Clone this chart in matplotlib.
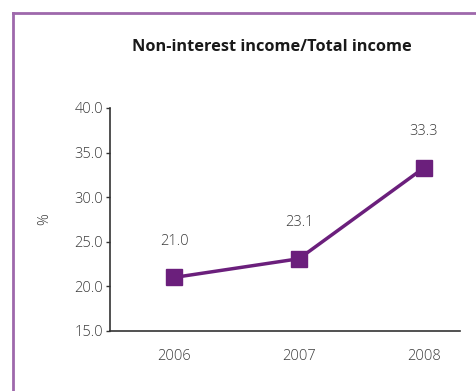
import matplotlib.pyplot as plt
from matplotlib.lines import Line2D

years = ["2006", "2007", "2008"]
ratio = [21.0, 23.1, 33.3]
y_ticks = [15.0, 20.0, 25.0, 30.0, 35.0, 40.0]

purple = "#6b1f7c"
frame_col = "#9e68ab"
grey = "#3c3c3c"

plt.rcParams['font.family'] = ['Open Sans', 'DejaVu Sans']

fig = plt.figure(figsize=(4.77, 3.91), dpi=100)
ax = fig.add_axes([0.2306, 0.1535, 0.7338, 0.5703])

x = list(range(len(years)))
ax.plot(x, ratio, color=purple, lw=2.5, marker="s", markersize=12, zorder=3)
for xi, v in zip(x, ratio):
    ax.annotate(f"{v:.1f}", (xi, v), xytext=(0, 26), textcoords="offset points",
                ha="center", va="center", fontsize=10.5, fontweight="light", color=grey)

ax.set_xlim(-0.512, 2.288)
ax.set_ylim(15, 40)
ax.set_yticks(y_ticks)
ax.set_yticklabels([f"{t:.1f}" for t in y_ticks], fontsize=10.5, fontweight="light", color=grey)
ax.set_xticks(x)
ax.set_xticklabels(years, fontsize=10.5, fontweight="light", color=grey)
ax.tick_params(axis="x", length=0, pad=13)
ax.tick_params(axis="y", length=3, width=1, color="#333333", pad=2)
for s in ["top", "right"]:
    ax.spines[s].set_visible(False)
for s in ["left", "bottom"]:
    ax.spines[s].set_color("#333333")
    ax.spines[s].set_linewidth(1.2)
ax.set_ylabel("%", fontsize=10.5, fontweight="light", color=grey, labelpad=16)

fig.text(0.57, 0.88, "Non-interest income/Total income", ha="center", va="center",
         fontsize=11.8, fontweight="bold", color="#1a1a1a")

# purple frame at top and left
fig.add_artist(Line2D([13 / 477, 1], [1 - 13 / 391, 1 - 13 / 391], color=frame_col, lw=2,
                      transform=fig.transFigure))
fig.add_artist(Line2D([13 / 477, 13 / 477], [0, 1 - 13 / 391], color=frame_col, lw=2,
                      transform=fig.transFigure))

fig.savefig("out.png", dpi=100)
